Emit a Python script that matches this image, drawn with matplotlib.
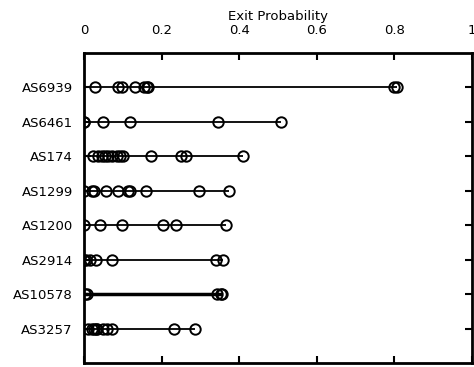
import matplotlib
matplotlib.use("Agg")
import matplotlib.pyplot as plt

# rows from top to bottom
asns = ["AS6939", "AS6461", "AS174", "AS1299", "AS1200", "AS2914", "AS10578", "AS3257"]

as6939 = [0.028, 0.088, 0.097, 0.132, 0.156, 0.162, 0.166, 0.798, 0.806]
as6461 = [0.0, 0.0, 0.05, 0.12, 0.346, 0.507]
as174 = [0.024, 0.037, 0.047, 0.055, 0.062, 0.073, 0.084, 0.092, 0.101,
         0.174, 0.249, 0.262, 0.41]
as1299 = [0.0, 0.022, 0.026, 0.056, 0.088, 0.114, 0.12, 0.161, 0.297, 0.373]
as1200 = [0.0, 0.041, 0.098, 0.203, 0.238, 0.367]
as2914 = [0.0, 0.005, 0.015, 0.031, 0.073, 0.34, 0.359]
as10578 = [0.004, 0.008, 0.344, 0.353, 0.357]
as3257 = [0.011, 0.02, 0.026, 0.031, 0.034, 0.05, 0.06, 0.073, 0.232, 0.287]

probs = [as6939, as6461, as174, as1299, as1200, as2914, as10578, as3257]

fig = plt.figure(figsize=(4.74, 3.67), dpi=100)
ax = fig.add_axes([0.177, 0.011, 0.819, 0.845])

n = len(asns)
for i, (name, vals) in enumerate(zip(asns, probs)):
    y = n - i
    lw = 2.5 if name == "AS10578" else 1.3
    ax.hlines(y, 0, max(vals), color="black", lw=lw, zorder=2)
    ax.plot(vals, [y] * len(vals), "o", ms=7.5, mfc="none", mec="black",
            mew=1.4, zorder=3)

ax.set_xlim(0, 1)
ax.set_ylim(0, n + 1)
ax.set_yticks(range(n, 0, -1))
ax.set_yticklabels(asns)
ax.set_xticks([0, 0.2, 0.4, 0.6, 0.8, 1.0])
ax.set_xticklabels(["0", "0.2", "0.4", "0.6", "0.8", "1"])
ax.xaxis.set_label_position("top")
ax.set_xlabel("Exit Probability", fontsize=9.5, labelpad=3)
ax.tick_params(axis="both", direction="in", length=5, width=1.5, labelsize=9.5,
               top=True, bottom=True, left=True, right=True,
               labeltop=True, labelbottom=False)
ax.tick_params(axis="x", pad=11.5)
ax.tick_params(axis="y", pad=8)
for s in ax.spines.values():
    s.set_linewidth(2)

fig.savefig("out.png", dpi=100)
